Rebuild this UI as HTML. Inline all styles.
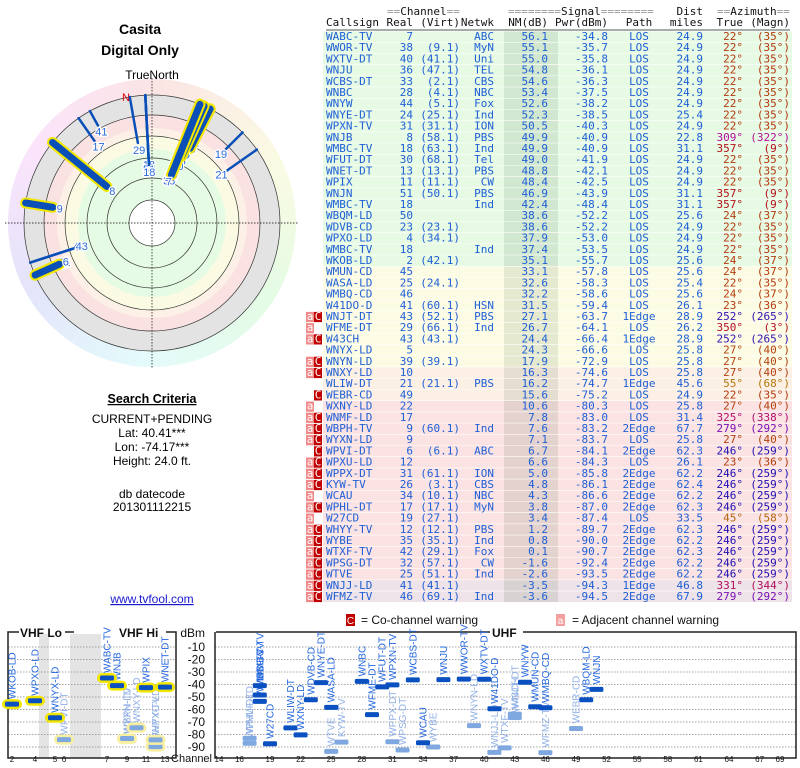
<!DOCTYPE html>
<html><head><meta charset="utf-8"><title>TV Fool Signal Analysis</title>
<style>
html,body{margin:0;padding:0;background:#fff;width:800px;height:768px;overflow:hidden}
svg{display:block}
.mono{font-family:"DejaVu Sans Mono","Liberation Mono",monospace;font-size:11px}
.sans{font-family:"Liberation Sans",Arial,sans-serif}
</style></head>
<body>
<svg id="root" width="800" height="768" viewBox="0 0 800 768" xmlns="http://www.w3.org/2000/svg">
  <g class="sans">
    <text x="140" y="34" text-anchor="middle" font-size="14" font-weight="bold">Casita</text>
    <text x="140" y="55" text-anchor="middle" font-size="14" font-weight="bold">Digital Only</text>
    <text x="152" y="79" text-anchor="middle" font-size="12">TrueNorth</text>
  </g>
  <g id="polar"></g>
  <g class="sans" font-size="12" text-anchor="middle">
    <text x="152" y="403" font-size="12.5" font-weight="bold" text-decoration="underline">Search Criteria</text>
    <text x="152" y="423">CURRENT+PENDING</text>
    <text x="152" y="437">Lat: 40.41***</text>
    <text x="152" y="451">Lon: -74.17***</text>
    <text x="152" y="465">Height: 24.0 ft.</text>
    <text x="152" y="498">db datecode</text>
    <text x="152" y="511">201301112215</text>
    <text x="152" y="603" fill="#1a1ad0" text-decoration="underline">www.tvfool.com</text>
  </g>
  <g id="table" class="mono"></g>
  <g id="spectrum" class="sans"></g>
</svg>
<script>
// ---- data ----
const callsigns=["WABC-TV","WWOR-TV","WXTV-DT","WNJU","WCBS-DT","WNBC","WNYW","WNYE-DT","WPXN-TV","WNJB","WMBC-TV","WFUT-DT","WNET-DT","WPIX","WNJN","WMBC-TV","WBQM-LD","WDVB-CD","WPXO-LD","WMBC-TV","WKOB-LD","WMUN-CD","WASA-LD","WMBQ-CD","W41DO-D","WNJT-DT","WFME-DT","W43CH","WNYX-LD","WNYN-LD","WNXY-LD","WLIW-DT","WEBR-CD","WXNY-LD","WNMF-LD","WBPH-TV","WYXN-LD","WPVI-DT","WPXU-LD","WPPX-DT","KYW-TV","WCAU","WPHL-DT","W27CD","WHYY-TV","WYBE","WTXF-TV","WPSG-DT","WTVE","WNJJ-LD","WFMZ-TV"];
const realCh=[7,38,40,36,33,28,44,24,31,8,18,30,13,11,51,18,50,23,4,18,2,45,25,46,41,43,29,43,5,39,10,21,49,22,17,9,9,6,12,31,26,34,17,19,12,35,42,32,25,41,46];
const virtCh=["","9.1","41.1","47.1","2.1","4.1","5.1","25.1","31.1","58.1","63.1","68.1","13.1","11.1","50.1","","","23.1","34.1","","42.1","","24.1","","60.1","52.1","66.1","43.1","","39.1","","21.1","","","","60.1","","6.1","","61.1","3.1","10.1","17.1","27.1","12.1","35.1","29.1","57.1","51.1","41.1","69.1"];
const networks=["ABC","MyN","Uni","TEL","CBS","NBC","Fox","Ind","ION","PBS","Ind","Tel","PBS","CW","PBS","Ind","","","","Ind","","","","","HSN","PBS","Ind","","","","","PBS","","","","Ind","","ABC","","ION","CBS","NBC","MyN","","PBS","Ind","Fox","CW","Ind","","Ind"];
const nmDb=[56.1,55.1,55.0,54.8,54.6,53.4,52.6,52.3,50.5,49.9,49.9,49.0,48.8,48.4,46.9,42.4,38.6,38.6,37.9,37.4,35.1,33.1,32.6,32.2,31.5,27.1,26.7,24.4,24.3,17.9,16.3,16.2,15.6,10.6,7.8,7.6,7.1,6.7,6.6,5.0,4.8,4.3,3.8,3.4,1.2,0.8,0.1,-1.6,-2.6,-3.5,-3.6];
const pwrDbm=[-34.8,-35.7,-35.8,-36.1,-36.3,-37.5,-38.2,-38.5,-40.3,-40.9,-40.9,-41.9,-42.1,-42.5,-43.9,-48.4,-52.2,-52.2,-53.0,-53.5,-55.7,-57.8,-58.3,-58.6,-59.4,-63.7,-64.1,-66.4,-66.6,-72.9,-74.6,-74.7,-75.2,-80.3,-83.0,-83.2,-83.7,-84.1,-84.3,-85.8,-86.1,-86.6,-87.0,-87.4,-89.7,-90.0,-90.7,-92.4,-93.5,-94.3,-94.5];
const paths=["LOS","LOS","LOS","LOS","LOS","LOS","LOS","LOS","LOS","LOS","LOS","LOS","LOS","LOS","LOS","LOS","LOS","LOS","LOS","LOS","LOS","LOS","LOS","LOS","LOS","1Edge","LOS","1Edge","LOS","LOS","LOS","1Edge","LOS","LOS","LOS","2Edge","LOS","2Edge","LOS","2Edge","2Edge","2Edge","2Edge","LOS","2Edge","2Edge","2Edge","2Edge","2Edge","1Edge","2Edge"];
const distMiles=[24.9,24.9,24.9,24.9,24.9,24.9,24.9,25.4,24.9,22.8,31.1,24.9,24.9,24.9,31.1,31.1,25.6,24.9,24.9,24.9,25.6,25.6,25.4,25.6,26.1,28.9,26.2,28.9,25.8,25.8,25.8,45.6,24.9,25.8,31.4,67.7,25.8,62.3,26.1,62.2,62.4,62.2,62.3,33.5,62.3,62.2,62.3,62.2,62.2,46.8,67.9];
const azTrue=[22,22,22,22,22,22,22,22,22,309,357,22,22,22,357,357,24,22,22,22,24,24,22,24,23,252,350,252,27,27,27,55,22,27,325,279,27,246,23,246,246,246,246,45,246,246,246,246,246,331,279];
const azMagn=[35,35,35,35,35,35,35,35,35,322,9,35,35,35,9,9,37,35,35,35,37,37,35,37,36,265,3,265,40,40,40,68,35,40,338,292,40,259,36,259,259,259,259,58,259,259,259,259,259,344,292];
const warnings=["","","","","","","","","","","","","","","","","","","","","","","","","","aC","a","aC","","aC","aC","","C","a","aC","aC","aC","C","aC","aC","aC","a","aC","a","aC","aC","aC","aC","aC","aC","aC"];
const dbmTicks=[-10,-20,-30,-40,-50,-60,-70,-80,-90];
const uhfTicks=[14,16,19,22,25,28,31,34,37,40,43,46,49,52,55,58,61,64,67,69];
const vhfTicks=[2,4,5,6,7,9,11,13];

const NS="http://www.w3.org/2000/svg";
function mk(tag,attrs,parent,txt){const e=document.createElementNS(NS,tag);for(const k in attrs)e.setAttribute(k,attrs[k]);if(txt!==undefined)e.textContent=txt;parent.appendChild(e);return e;}
function azColor(a){const h=a<90?a*0.7:a;return `hsl(${h},85%,38%)`;}

// ---- table ----
const T=document.getElementById('table');
const rowTop=31.4,rowH=11.2;
function rowBg(i,nm){if(i>=49)return"#eee3e8";if(nm>=35)return"#e6fae4";if(nm>=17)return"#fcfce4";if(nm>=15)return"#fcefe4";return"#fbe3e3";}
const hdr=mk('g',{},T);


function htxt(x,y,s,anchor,fill){const t=mk('text',{x:x,y:y,'text-anchor':anchor||'start',fill:fill||'#111'},hdr,s);return t;}
function grpHead(x,y,eq1,word,eq2){const t=mk('text',{x:x,y:y,fill:'#111'},hdr);mk('tspan',{fill:'#999'},t,eq1);mk('tspan',{},t,word);mk('tspan',{fill:'#999'},t,eq2);}
grpHead(387,15,"==","Channel","==");
grpHead(508,15,"========","Signal","========");
htxt(703,15,"Dist","end");
grpHead(717,15,"==","Azimuth","==");
htxt(326,26,"Callsign");htxt(413,26,"Real","end");htxt(460,26,"(Virt)","end");htxt(494,26,"Netwk","end");
htxt(548,26,"NM(dB)","end");htxt(608,26,"Pwr(dBm)","end");htxt(639,26,"Path","middle");htxt(703,26,"miles","end");
htxt(743,26,"True","end");htxt(790,26,"(Magn)","end");
mk('line',{x1:326,y1:30,x2:790,y2:30,stroke:'#555','stroke-width':1},hdr);

for(let i=0;i<callsigns.length;i++){
  const y=rowTop+i*rowH, base=y+8.6;
  const g=mk('g',{},T);
  
  
  mk('rect',{x:323,y:y,width:469,height:rowH,fill:rowBg(i,nmDb[i])},g);
  mk('rect',{x:504,y:y,width:54,height:rowH,fill:'rgba(0,40,0,0.09)'},g);
  mk('line',{x1:323,y1:y+rowH-0.3,x2:792,y2:y+rowH-0.3,stroke:'#fff','stroke-width':0.6},g);
  const w=warnings[i];
  if(w.includes('a')){const b=mk('g',{},g);
    
    
    mk('rect',{x:306,y:y+0.5,width:8,height:rowH-1,fill:'#f08a8a'},b);mk('text',{x:310,y:base,'text-anchor':'middle',fill:'#fff'},b,'a');}
  if(w.includes('C')){const b=mk('g',{},g);
    
    
    mk('rect',{x:314,y:y+0.5,width:8,height:rowH-1,fill:'#c00000'},b);mk('text',{x:318,y:base,'text-anchor':'middle',fill:'#fff'},b,'C');}
  const c='#1f5fd6';
  mk('text',{x:326,y:base,fill:c},g,callsigns[i]);
  mk('text',{x:413,y:base,fill:c,'text-anchor':'end'},g,String(realCh[i]));
  if(virtCh[i])mk('text',{x:460,y:base,fill:c,'text-anchor':'end'},g,'('+virtCh[i]+')');
  if(networks[i])mk('text',{x:494,y:base,fill:c,'text-anchor':'end'},g,networks[i]);
  mk('text',{x:548,y:base,fill:c,'text-anchor':'end'},g,nmDb[i].toFixed(1));
  mk('text',{x:608,y:base,fill:c,'text-anchor':'end'},g,pwrDbm[i].toFixed(1));
  mk('text',{x:639,y:base,fill:c,'text-anchor':'middle'},g,paths[i]);
  mk('text',{x:703,y:base,fill:c,'text-anchor':'end'},g,distMiles[i].toFixed(1));
  const ac=azColor(azTrue[i]);
  mk('text',{x:743,y:base,fill:ac,'text-anchor':'end'},g,azTrue[i]+'°');
  mk('text',{x:790,y:base,fill:ac,'text-anchor':'end'},g,'('+azMagn[i]+'°)');
}

// ---- polar ----
const P=document.getElementById('polar');
const cx=152,cy=223;
for(let a=0;a<360;a+=5){const a1=(a-90)*Math.PI/180,a2=(a+5.5-90)*Math.PI/180,R=144,r=128;
  mk('path',{d:`M${cx+r*Math.cos(a1)} ${cy+r*Math.sin(a1)} L${cx+R*Math.cos(a1)} ${cy+R*Math.sin(a1)} A${R} ${R} 0 0 1 ${cx+R*Math.cos(a2)} ${cy+R*Math.sin(a2)} L${cx+r*Math.cos(a2)} ${cy+r*Math.sin(a2)} Z`,fill:`hsl(${a},75%,94%)`},P);}
mk('circle',{cx:cx,cy:cy,r:128,fill:'#e3e3e3'},P);
mk('circle',{cx:cx,cy:cy,r:108,fill:'#fbe2e2'},P);
mk('circle',{cx:cx,cy:cy,r:95,fill:'#fdf0e6'},P);
mk('circle',{cx:cx,cy:cy,r:88,fill:'#fbfbe4'},P);
mk('circle',{cx:cx,cy:cy,r:74,fill:'#e6fbe4'},P);
mk('circle',{cx:cx,cy:cy,r:23,fill:'#fff'},P);
[23,45,65,87,108,128].forEach(r=>mk('circle',{cx:cx,cy:cy,r:r,fill:'none',stroke:'#333','stroke-width':0.7},P));
mk('line',{x1:cx,y1:78,x2:cx,y2:368,stroke:'#000','stroke-width':0.7,'stroke-dasharray':'1.5,1.5'},P);
mk('line',{x1:5,y1:cy,x2:298,y2:cy,stroke:'#000','stroke-width':0.7,'stroke-dasharray':'1.5,1.5'},P);
mk('text',{x:122,y:101,fill:'#e00000','font-size':11,'font-family':'Liberation Sans'},P,'N');
const order=[...callsigns.keys()].reverse();
order.forEach(i=>{
  const a=(azTrue[i]-90)*Math.PI/180;
  const len=Math.max(6,20+nmDb[i]);
  const r2=128,r1=r2-len;
  const x1=cx+r1*Math.cos(a),y1=cy+r1*Math.sin(a),x2=cx+r2*Math.cos(a),y2=cy+r2*Math.sin(a);
  const vhf=realCh[i]<=13;
  const g=mk('g',{},P);
  
  
  if(vhf)mk('line',{x1:x1,y1:y1,x2:x2,y2:y2,stroke:'#f2e600','stroke-width':11,'stroke-linecap':'round'},g);
  mk('line',{x1:x1,y1:y1,x2:x2,y2:y2,stroke:'#0a4fb8','stroke-width':vhf?7:2.5,'stroke-linecap':'round'},g);
  const lr=r1-7;
  mk('text',{x:cx+lr*Math.cos(a),y:cy+lr*Math.sin(a)+4,'text-anchor':'middle','font-size':11,'font-family':'Liberation Sans',fill:'#2a6ad8',stroke:'#fff','stroke-width':2.5,'paint-order':'stroke'},g,String(realCh[i]));
});

// ---- spectrum chart ----
const S=document.getElementById('spectrum');
function yScale(d){return 647+(-10-d)*1.25;}
const vhfX={2:12,3:23.5,4:35,5:55,6:64,7:107,8:117,9:127,10:136.5,11:146,12:155.5,13:165};
function uhfX(ch){return 219+(ch-14)*10.2;}
function chX(ch){return ch<=13?vhfX[ch]:uhfX(ch);}
const lg=mk('g',{'font-size':12},S);


mk('rect',{x:346,y:614,width:9,height:12,fill:'#c00000'},lg);mk('text',{x:350.5,y:624,'text-anchor':'middle',fill:'#fff','font-size':10},lg,'C');
mk('text',{x:361,y:624,fill:'#111'},lg,'= Co-channel warning');
mk('rect',{x:556,y:614,width:9,height:12,fill:'#f4a0a0'},lg);mk('text',{x:560.5,y:624,'text-anchor':'middle',fill:'#fff','font-size':10},lg,'a');
mk('text',{x:572,y:624,fill:'#111'},lg,'= Adjacent channel warning');
mk('rect',{x:39,y:634,width:10,height:124,fill:'#e4e4e4'},S);
mk('rect',{x:70,y:634,width:31,height:124,fill:'#e4e4e4'},S);
dbmTicks.forEach(d=>{const y=yScale(d);
  mk('line',{x1:8,y1:y,x2:176,y2:y,stroke:'#888','stroke-width':0.8,'stroke-dasharray':'1.5,1.5'},S);
  mk('line',{x1:215,y1:y,x2:796,y2:y,stroke:'#888','stroke-width':0.8,'stroke-dasharray':'1.5,1.5'},S);
  const t=mk('text',{x:205,y:y+4,'text-anchor':'end','font-size':12,fill:'#111'},S,String(d));
  
  
});
mk('text',{x:205,y:637,'text-anchor':'end','font-size':12,fill:'#111'},S,'dBm');
mk('path',{d:'M19 632 H8 V758 H176 V632 H166 M65 632 H74',fill:'none',stroke:'#222','stroke-width':1.5},S);
mk('text',{x:20,y:637,'font-size':12,'font-weight':'bold',fill:'#111'},S,'VHF Lo');
mk('text',{x:119,y:637,'font-size':12,'font-weight':'bold',fill:'#111'},S,'VHF Hi');
mk('path',{d:'M215 632 V758 H796 V632 H523 M216 632 H490',fill:'none',stroke:'#222','stroke-width':1.5},S);
mk('text',{x:492,y:637,'font-size':12,'font-weight':'bold',fill:'#111'},S,'UHF');
mk('text',{x:212,y:762,'text-anchor':'end','font-size':11,fill:'#111'},S,'Channel');
vhfTicks.forEach(c=>{mk('text',{x:vhfX[c],y:762,'text-anchor':'middle','font-size':8,fill:'#111'},S,String(c));});
uhfTicks.forEach(c=>{mk('text',{x:uhfX(c),y:762,'text-anchor':'middle','font-size':8,fill:'#111'},S,String(c));});
order.forEach(i=>{
  const x=chX(realCh[i]),y=yScale(pwrDbm[i]);
  const light=warnings[i].includes('C');
  const vhf=realCh[i]<=13;
  const g=mk('g',{},S);
  
  
  if(vhf)mk('rect',{x:x-10,y:y-5,width:20,height:10,rx:5,fill:light?'#f8f0a0':'#f2e600'},g);
  mk('rect',{x:x-7,y:y-2.5,width:14,height:5,rx:1.5,fill:light?'#80a8e0':'#0a50c0'},g);
  mk('text',{x:x+3.5,y:y-5,transform:`rotate(-90 ${x+3.5} ${y-5})`,'font-size':10,fill:light?'#90b0e6':'#2266dd'},g,callsigns[i]);
});
</script>
</body></html>
